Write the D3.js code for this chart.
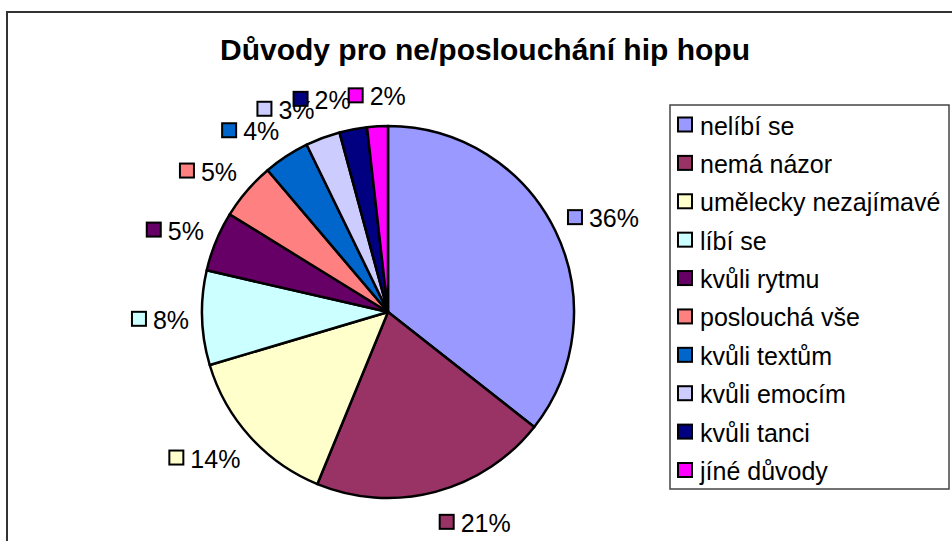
<!DOCTYPE html>
<html>
<head>
<meta charset="utf-8">
<script src="https://cdn.jsdelivr.net/npm/d3@7"></script>
<style>
  body { margin: 0; background: #fff; }
  svg { display: block; font-family: "Liberation Sans", Arial, sans-serif; }
</style>
</head>
<body>
<svg id="chart"></svg>
<script>
// data (shares in %)
const categories = ['nelíbí se', 'nemá názor', 'umělecky nezajímavé', 'líbí se', 'kvůli rytmu',
  'poslouchá vše', 'kvůli textům', 'kvůli emocím', 'kvůli tanci', 'jíné důvody'];
const shares = [35.6, 20.6, 14.2, 8.2, 5.2, 5.0, 4.0, 3.0, 2.4, 1.8];
const colors = ['#9999FF', '#993366', '#FFFFCC', '#CCFFFF', '#660066',
  '#FF8080', '#0066CC', '#CCCCFF', '#000080', '#FF00FF'];
const title = 'Důvody pro ne/poslouchání hip hopu';

const width = 952, height = 541;
const cx = 388, cy = 312, radius = 186;

const data = categories.map((c, i) => ({ name: c, value: shares[i], color: colors[i] }));

const svg = d3.select('#chart')
  .attr('width', width)
  .attr('height', height);

// outer chart frame (right/bottom run off the page)
svg.append('rect')
  .attr('x', 7).attr('y', 12)
  .attr('width', width + 20).attr('height', height + 20)
  .attr('fill', 'none')
  .attr('stroke', '#333')
  .attr('stroke-width', 2);

svg.append('text')
  .attr('x', 485)
  .attr('y', 60)
  .attr('text-anchor', 'middle')
  .style('font-size', '30px')
  .style('font-weight', 'bold')
  .text(title);

const pie = d3.pie().sort(null).value(d => d.value);
const arc = d3.arc().innerRadius(0).outerRadius(radius);
const arcs = pie(data);

const g = svg.append('g').attr('transform', `translate(${cx},${cy})`);

g.selectAll('path.slice')
  .data(arcs)
  .join('path')
  .attr('class', 'slice')
  .attr('d', arc)
  .attr('fill', d => d.data.color)
  .attr('stroke', '#000')
  .attr('stroke-width', 2.5)
  .attr('stroke-linejoin', 'round');

// data labels: key square + rounded percent, outside the pie
const fmt = v => `${Math.round(v)}%`;
const labels = g.selectAll('g.lbl')
  .data(arcs)
  .join('g')
  .attr('class', 'lbl');

labels.append('text')
  .style('font-size', '25px')
  .attr('dominant-baseline', 'central')
  .text(d => fmt(d.data.value));

// anchor just past the rim; box hangs off to the outer side of it
const boxes = [];
labels.each(function(d) {
  const tw = d3.select(this).select('text').node().getComputedTextLength();
  const w = 16 + 6 + tw;
  const a = (d.startAngle + d.endAngle) / 2;
  const s = Math.sin(a), c = Math.cos(a);
  const ax = (radius + 13) * s, ay = -(radius + 13) * c;
  let x;
  if (Math.abs(s) < 0.1) x = ax - w / 2;
  else if (s > 0) x = ax;
  else x = ax - w;
  boxes.push({ x: x, y: ay - 18 * c, w: w });
});

// keep neighbouring texts from running into each other near the top
for (let i = boxes.length - 2; i >= 0; i--) {
  const b = boxes[i], nb = boxes[i + 1];
  if (Math.abs(b.y - nb.y) < 20 && b.x + b.w > nb.x + 22) {
    b.x = nb.x + 22 - b.w;
  }
}

labels.each(function(d, i) {
  const sel = d3.select(this);
  const b = boxes[i];
  sel.insert('rect', 'text')
    .attr('x', b.x + 1).attr('y', b.y - 7)
    .attr('width', 14).attr('height', 14)
    .attr('fill', d.data.color)
    .attr('stroke', '#000')
    .attr('stroke-width', 2);
  sel.select('text').attr('x', b.x + 22).attr('y', b.y + 1);
});

// legend
const legend = svg.append('g');
legend.append('rect')
  .attr('x', 670).attr('y', 105)
  .attr('width', 279).attr('height', 384)
  .attr('fill', '#fff')
  .attr('stroke', '#444')
  .attr('stroke-width', 1.5);

const rowY = d3.scalePoint().domain(categories).range([124.5, 470]);

const items = legend.selectAll('g.item')
  .data(data)
  .join('g')
  .attr('class', 'item')
  .attr('transform', d => `translate(678,${rowY(d.name)})`);

items.append('rect')
  .attr('x', 0).attr('y', -7)
  .attr('width', 14).attr('height', 14)
  .attr('fill', d => d.color)
  .attr('stroke', '#000')
  .attr('stroke-width', 2);

items.append('text')
  .attr('x', 22).attr('y', 1)
  .attr('dominant-baseline', 'central')
  .style('font-size', '25px')
  .text(d => d.name);
</script>
</body>
</html>
